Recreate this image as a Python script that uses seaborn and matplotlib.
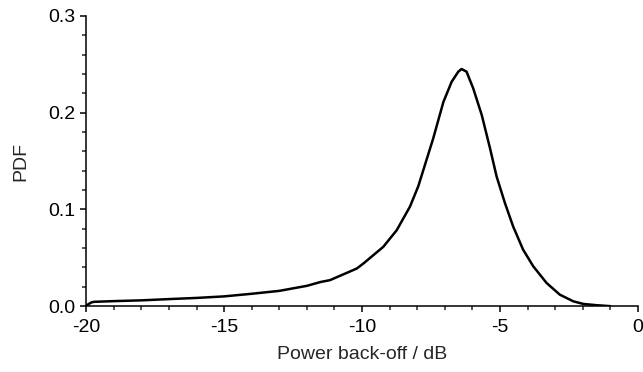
import matplotlib
matplotlib.use("Agg")
import matplotlib.pyplot as plt
import seaborn as sns
import pandas as pd
from matplotlib.ticker import MultipleLocator, FormatStrFormatter

# Data
backoff_db = [-20.0, -19.98, -19.8, -19.7, -19.0, -18.0, -17.0, -16.0, -15.0,
              -14.0, -13.0, -12.0, -11.5, -11.16, -10.19, -9.95, -9.23, -8.74,
              -8.26, -7.96, -7.42, -7.05, -6.75, -6.51, -6.39, -6.21, -5.97,
              -5.66, -5.36, -5.12, -4.82, -4.52, -4.16, -3.79, -3.31, -2.83,
              -2.34, -1.98, -1.5, -1.0]
pdf = [0.0, 0.001, 0.004, 0.0045, 0.0052, 0.006, 0.0073, 0.0085, 0.0101,
       0.0128, 0.0158, 0.021, 0.025, 0.0269, 0.0389, 0.0441, 0.0613, 0.0786,
       0.103, 0.124, 0.1733, 0.2111, 0.232, 0.2424, 0.2452, 0.2424, 0.2253,
       0.1977, 0.1633, 0.134, 0.1067, 0.0823, 0.0584, 0.0411, 0.024, 0.0119,
       0.005, 0.0023, 0.001, 0.0]

df = pd.DataFrame({"backoff": backoff_db, "pdf": pdf})

sns.set_style("ticks")
plt.rcParams["font.family"] = ["Liberation Sans", "DejaVu Sans"]
plt.rcParams["axes.unicode_minus"] = False

fig = plt.figure(figsize=(6.43, 3.72), dpi=100)
ax = fig.add_axes([0.134, 0.177, 0.858, 0.78])

sns.lineplot(data=df, x="backoff", y="pdf", color="black", linewidth=1.8, ax=ax)

ax.set_xlim(-20, 0)
ax.set_ylim(0, 0.3)
ax.xaxis.set_major_locator(MultipleLocator(5))
ax.xaxis.set_minor_locator(MultipleLocator(1))
ax.yaxis.set_major_locator(MultipleLocator(0.1))
ax.yaxis.set_minor_locator(MultipleLocator(0.02))
ax.yaxis.set_major_formatter(FormatStrFormatter("%.1f"))

ax.tick_params(which="major", direction="out", length=4.5, width=1.1,
               labelsize=14, colors="black", pad=3)
ax.tick_params(axis="x", which="major", pad=5)
ax.tick_params(which="minor", direction="out", length=3, width=1.1)

for s in ["top", "right"]:
    ax.spines[s].set_visible(False)
for s in ["left", "bottom"]:
    ax.spines[s].set_linewidth(1.1)
    ax.spines[s].set_color("black")

ax.set_xlabel("Power back-off / dB", fontsize=14, labelpad=7)
ax.set_ylabel("PDF", fontsize=14, labelpad=14)

fig.savefig("out.png", dpi=100)
